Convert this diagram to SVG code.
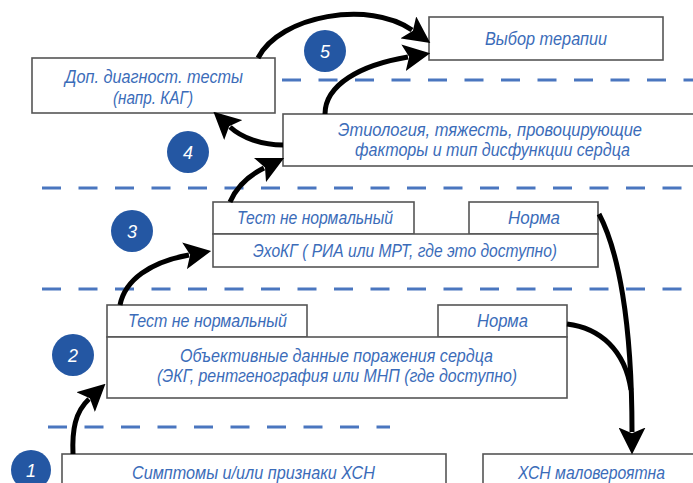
<svg xmlns="http://www.w3.org/2000/svg" width="693" height="483" viewBox="0 0 693 483">
<defs>
<style>
.box{fill:#fff;stroke:#555;stroke-width:1.6}
.t{font-family:"Liberation Sans",Arial,sans-serif;font-style:italic;font-size:18px;fill:#3b6cb9}
.dash{stroke:#4a76bf;stroke-width:3;stroke-dasharray:19 17.5;fill:none}
.num{fill:#2457a3}
.nt{font-family:"Liberation Sans",Arial,sans-serif;font-style:italic;font-size:18px;fill:#fff;text-anchor:middle}
.arr{fill:none;stroke:#000;stroke-width:5;marker-end:url(#ah)}
</style>
<marker id="ah" markerUnits="userSpaceOnUse" markerWidth="27" markerHeight="27" viewBox="0 0 24 24" refX="4" refY="12" orient="auto">
<path d="M0,0 L24,12 L0,24 L5,12 z" fill="#000"/>
</marker>
</defs>
<g id="dashes">
<line class="dash" x1="282" y1="80" x2="693" y2="80"/>
<line class="dash" x1="42" y1="188" x2="693" y2="188"/>
<line class="dash" x1="42" y1="289" x2="693" y2="289"/>
<line class="dash" x1="48" y1="427" x2="390" y2="427"/>
</g>
<g id="n-therapy"><rect class="box" x="429" y="17" width="234" height="43"/><text class="t" x="485" y="45" textLength="122" lengthAdjust="spacingAndGlyphs">Выбор терапии</text></g>
<g id="n-extra"><rect class="box" x="32" y="58" width="243" height="55"/><text class="t" x="65" y="83" textLength="178" lengthAdjust="spacingAndGlyphs">Доп. диагност. тесты</text><text class="t" x="113" y="104" textLength="80" lengthAdjust="spacingAndGlyphs">(напр. КАГ)</text></g>
<g id="n-etiology"><rect class="box" x="283" y="114" width="420" height="52"/><text class="t" x="338" y="136" textLength="304" lengthAdjust="spacingAndGlyphs">Этиология, тяжесть, провоцирующие</text><text class="t" x="355" y="156" textLength="275" lengthAdjust="spacingAndGlyphs">факторы и тип дисфункции сердца</text></g>
<g id="n-echo"><rect class="box" x="213" y="202" width="201" height="32"/><rect class="box" x="469" y="202" width="129" height="32"/><rect class="box" x="213" y="234" width="385" height="33"/><text class="t" x="237" y="224" textLength="156" lengthAdjust="spacingAndGlyphs">Тест не нормальный</text><text class="t" x="508" y="224" textLength="52" lengthAdjust="spacingAndGlyphs">Норма</text><text class="t" x="253" y="257" textLength="304" lengthAdjust="spacingAndGlyphs">ЭхоКГ ( РИА или МРТ, где это доступно)</text></g>
<g id="n-objective"><rect class="box" x="107" y="305" width="200" height="32"/><rect class="box" x="438" y="305" width="129" height="32"/><rect class="box" x="107" y="337" width="460" height="61"/><text class="t" x="128" y="327" textLength="159" lengthAdjust="spacingAndGlyphs">Тест не нормальный</text><text class="t" x="477" y="327" textLength="51" lengthAdjust="spacingAndGlyphs">Норма</text><text class="t" x="180" y="362" textLength="313" lengthAdjust="spacingAndGlyphs">Объективные данные поражения сердца</text><text class="t" x="157" y="382" textLength="360" lengthAdjust="spacingAndGlyphs">(ЭКГ, рентгенография или МНП (где доступно)</text></g>
<g id="n-symptoms"><rect class="box" x="62" y="454" width="384" height="40"/><text class="t" x="132" y="479" textLength="243" lengthAdjust="spacingAndGlyphs">Симптомы и/или признаки ХСН</text></g>
<g id="n-unlikely"><rect class="box" x="483" y="454" width="230" height="40"/><text class="t" x="518" y="479" textLength="147" lengthAdjust="spacingAndGlyphs">ХСН маловероятна</text></g>
<g id="steps">
<circle class="num" cx="31" cy="470" r="20"/><text class="nt" x="31" y="477">1</text>
<circle class="num" cx="73" cy="355" r="21"/><text class="nt" x="73" y="362">2</text>
<circle class="num" cx="132" cy="231" r="21"/><text class="nt" x="132" y="238">3</text>
<circle class="num" cx="188" cy="152" r="21"/><text class="nt" x="188" y="159">4</text>
<circle class="num" cx="325" cy="51" r="21"/><text class="nt" x="325" y="58">5</text>
</g>
<g id="connectors">
<path class="arr" d="M73,454 C72,430 75,412 89,399"/>
<path class="arr" d="M120,305 C125,280 150,262 189,255"/>
<path class="arr" d="M230,202 C236,188 248,176 264,168"/>
<path class="arr" d="M283,145 C262,145 242,138 230,127"/>
<path class="arr" d="M325,114 C325,85 360,65 408,57"/>
<path class="arr" d="M258,58 C280,15 370,0 412,30"/>
<path class="arr" d="M599,214 C618,250 632,320 632,432"/>
<path fill="none" stroke="#000" stroke-width="5" d="M567,324 C600,328 625,350 631,390"/>
</g>
</svg>
